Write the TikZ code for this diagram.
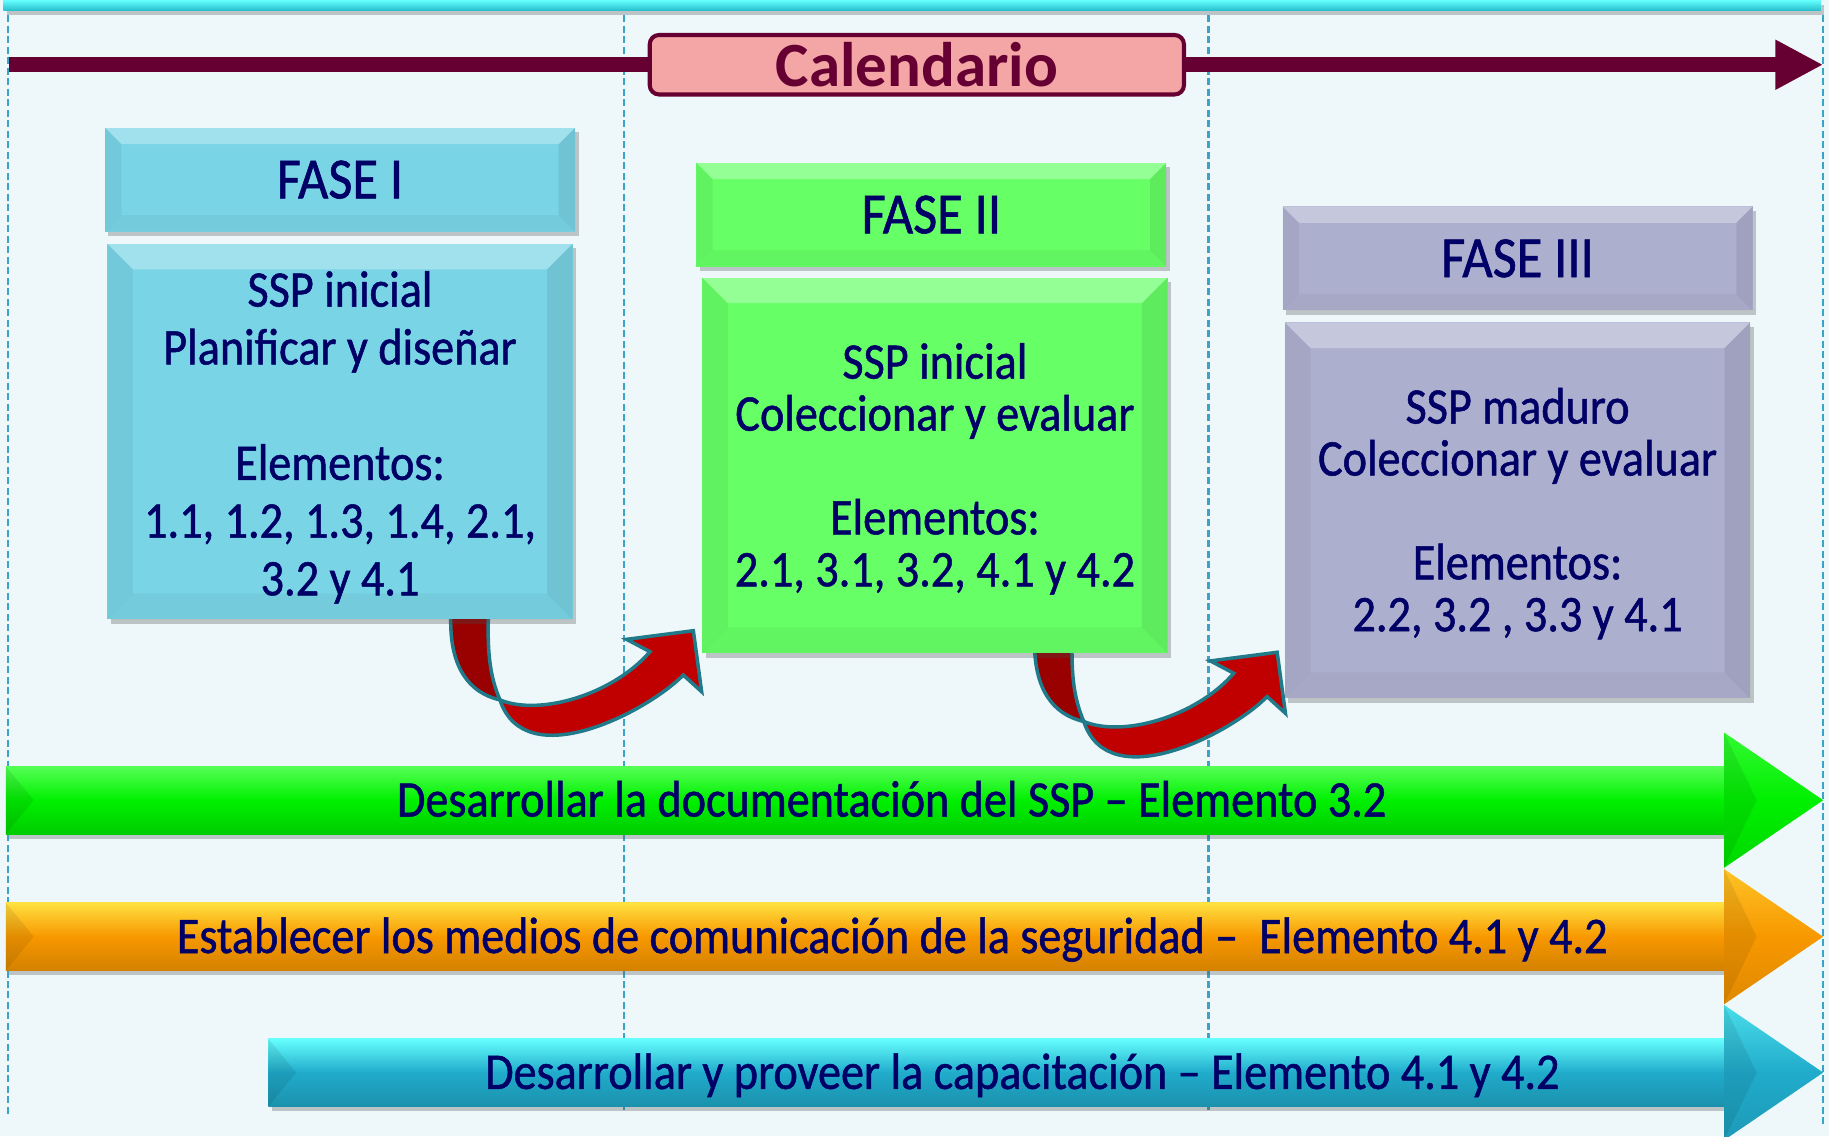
\documentclass[tikz,border=0pt]{standalone}
\usepackage{fontspec}
\setmainfont{Carlito}
\newfontfamily\narrowfont[FakeStretch=0.9,FakeBold=1]{Carlito}
\usetikzlibrary{arrows.meta,positioning,shadows}

\definecolor{bgcol}{HTML}{EEF8FA}
\definecolor{topline}{HTML}{30EEFF}
\definecolor{dashcol}{HTML}{3AA3C8}
\definecolor{calline}{HTML}{660033}
\definecolor{calfill}{HTML}{F4A6A6}
\definecolor{navy}{HTML}{000066}
\definecolor{faseA}{HTML}{79D4E6}
\definecolor{faseB}{HTML}{66FF66}
\definecolor{faseC}{HTML}{ADAFCF}
\definecolor{turnfront}{HTML}{C00000}
\definecolor{turnback}{HTML}{990000}
\definecolor{turnedge}{HTML}{217A8A}
\definecolor{greenmain}{HTML}{00F000}
\definecolor{greenlight}{HTML}{55FF55}
\definecolor{orangemain}{HTML}{F89800}
\definecolor{orangelight}{HTML}{FFE040}
\definecolor{bluemain}{HTML}{20ABCB}
\definecolor{bluelight}{HTML}{66FFFF}

\tikzset{
  bevelled/.style={path picture={
    \fill[white,opacity=.3] (path picture bounding box.north west) -- (path picture bounding box.north east)
      -- ([xshift=-#1,yshift=-#1]path picture bounding box.north east) -- ([xshift=#1,yshift=-#1]path picture bounding box.north west) -- cycle;
    \fill[black,opacity=.05] (path picture bounding box.north west) -- ([xshift=#1,yshift=-#1]path picture bounding box.north west)
      -- ([xshift=#1,yshift=#1]path picture bounding box.south west) -- (path picture bounding box.south west) -- cycle;
    \fill[black,opacity=.08] (path picture bounding box.north east) -- ([xshift=-#1,yshift=-#1]path picture bounding box.north east)
      -- ([xshift=-#1,yshift=#1]path picture bounding box.south east) -- (path picture bounding box.south east) -- cycle;
    \fill[black,opacity=.04] (path picture bounding box.south west) -- ([xshift=#1,yshift=#1]path picture bounding box.south west)
      -- ([xshift=-#1,yshift=#1]path picture bounding box.south east) -- (path picture bounding box.south east) -- cycle;
  }},
  boxshadow/.style={drop shadow={shadow xshift=3pt,shadow yshift=-4pt,opacity=.3,fill=black!70}},
  guide/.style={draw=dashcol, line width=2pt, dash pattern=on 6pt off 3pt},
  calbox/.style={draw=calline, line width=3.5pt, fill=calfill, rounded corners=8pt, minimum width=458pt,
    minimum height=51pt, inner sep=0pt, text=calline, font=\fontsize{54}{54}\selectfont\bfseries},
  calline/.style={draw=calline, line width=13pt},
  fasehdr/.style={boxshadow, bevelled=14pt, minimum width=403pt, minimum height=89pt, inner sep=0pt,
    text=navy, font=\narrowfont\fontsize{50}{50}\selectfont},
  fasebody/.style={boxshadow, bevelled=22pt, minimum width=399pt, minimum height=322pt, inner sep=0pt},
  fasetext/.style={align=center, inner sep=0pt, text=navy, font=\narrowfont\fontsize{44}{44.5}\selectfont},
  bandtext/.style={anchor=base, inner sep=0pt, text=navy, font=\narrowfont\fontsize{44}{44}\selectfont}
}

% red turning arrow between two phases
\newcommand\redturn{%
  \filldraw[fill=turnback, draw=turnedge, line width=3pt, line join=round]
    (386.4,515) -- (386.4,531.5) .. controls (386,572) and (402,594) .. (428.6,600)
    .. controls (420,580) and (418,560) .. (418.6,531.5) -- (418.6,515) -- cycle;
  \filldraw[fill=turnfront, draw=turnedge, line width=3pt, line join=miter]
    (428.6,600) .. controls (462,614) and (525,596) .. (557.2,558.7)
    -- (537.2,548.1) -- (594.4,540.7) -- (601.5,593) -- (585.8,578.7)
    .. controls (555,610) and (450,665) .. (428.6,600) -- cycle;
}

% wide band arrow: left x, middle y, light colour, main colour
\newcommand\flowband[4]{%
  \path[boxshadow, top color=#3, bottom color=#4!85!black, middle color=#4] (#1,#2-29) rectangle (1478,#2+29);
  \path[top color=#3!60!#4, bottom color=#4!90!black, middle color=#4] (1478,#2-58) -- (1563,#2) -- (1478,#2+58) -- cycle;
  \fill[black,opacity=.08] (1478,#2-58) -- (1506,#2) -- (1478,#2+58) -- cycle;
  \fill[black,opacity=.08] (#1,#2-29) -- (#1+24,#2) -- (#1,#2+29) -- cycle;
}

\begin{document}
\begin{tikzpicture}[x=1pt,y=-1pt]
%Background
\useasboundingbox (0,0) rectangle (1568,974);
\fill[bgcol] (0,0) rectangle (1568,974);
\path[boxshadow, top color=bluelight, bottom color=topline!80!black] (3,0) rectangle (1561,9);

%Dashed guides
\foreach \gx/\gy in {7/956, 535/952, 1036/952, 1563/965}
  \draw[guide] (\gx,13) -- (\gx,\gy);

%Calendar line
\coordinate (calL) at (8,55.5);
\coordinate (calR) at (1563,55.5);
\node[calbox] (cal) at (786,55.5) {Calendario};
\draw[calline] (calL) -- (cal.west);
\draw[calline, -{Triangle[length=41pt,width=40pt]}] (cal.east) -- (calR);

%Turning arrows
\redturn
\begin{scope}[shift={(500.5,18.5)}]
\redturn
\end{scope}

%Phases
\node[fasehdr, fill=faseA] (hdrI) at (291.5,154) {FASE I};
\node[fasebody, fill=faseA, below=10pt of hdrI] (bodyI) {};
\node[fasetext, font=\narrowfont\fontsize{44}{49.5}\selectfont] (txtI) at ([yshift=-5pt]bodyI.center)
  {SSP inicial\\Planificar y diseñar\\[\baselineskip]Elementos:\\1.1, 1.2, 1.3, 1.4, 2.1,\\3.2 y 4.1};

\node[fasehdr, fill=faseB] (hdrII) at (798.5,184) {FASE II};
\node[fasebody, fill=faseB, below=9pt of hdrII, xshift=3pt] (bodyII) {};
\node[fasetext] (txtII) at ([yshift=-3pt]bodyII.center)
  {SSP inicial\\Coleccionar y evaluar\\[\baselineskip]Elementos:\\2.1, 3.1, 3.2, 4.1 y 4.2};

\node[fasehdr, fill=faseC] (hdrIII) at (1301,221.5) {FASE III};
\node[fasebody, fill=faseC, below=10pt of hdrIII] (bodyIII) {};
\node[fasetext] (txtIII) at ([yshift=-3pt]bodyIII.center)
  {SSP maduro\\Coleccionar y evaluar\\[\baselineskip]Elementos:\\2.2, 3.2 , 3.3 y 4.1};

%Bands
\flowband{5}{686}{greenlight}{greenmain}
\node[bandtext] (docu) at (764.5,700) {Desarrollar la documentación del SSP – Elemento 3.2};
\flowband{5}{803}{orangelight}{orangemain}
\node[bandtext] (comu) at (765,817) {Establecer los medios de comunicación de la seguridad –\ \ Elemento 4.1 y 4.2};
\flowband{230}{919.5}{bluelight}{bluemain}
\node[bandtext] (capa) at (876.5,933.5) {Desarrollar y proveer la capacitación – Elemento 4.1 y 4.2};
\end{tikzpicture}
\end{document}
